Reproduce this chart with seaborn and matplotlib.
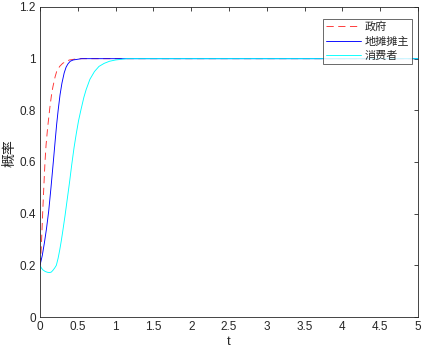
import numpy as np
import pandas as pd
import seaborn as sns
import matplotlib
matplotlib.use("Agg")
import matplotlib.pyplot as plt
from matplotlib.ticker import FuncFormatter

# --- data ---
series_names = ["政府", "地摊摊主", "消费者"]

t_gov = [0, 0.01, 0.02, 0.035, 0.05, 0.066, 0.08, 0.10, 0.13, 0.15, 0.17, 0.20, 0.22, 0.26, 0.30, 0.35, 0.39, 0.50, 5.0]
p_gov = [0.2, 0.233, 0.29, 0.40, 0.50, 0.60, 0.665, 0.73, 0.81, 0.855, 0.89, 0.93, 0.95, 0.97, 0.982, 0.99, 0.995, 1.0, 1.0]

t_land = [0, 0.03, 0.057, 0.085, 0.115, 0.145, 0.176, 0.20, 0.22, 0.24, 0.265, 0.29, 0.32, 0.345, 0.37, 0.40, 0.44, 0.55, 5.0]
p_land = [0.2, 0.238, 0.285, 0.34, 0.41, 0.50, 0.60, 0.68, 0.745, 0.80, 0.86, 0.905, 0.945, 0.967, 0.98, 0.99, 0.995, 1.0, 1.0]

t_cons = [0, 0.02, 0.04, 0.07, 0.10, 0.128, 0.15, 0.172, 0.195, 0.216, 0.24, 0.26, 0.28, 0.30, 0.33,
          0.36, 0.39, 0.42, 0.45, 0.48, 0.51, 0.54, 0.58, 0.61, 0.66, 0.72, 0.78, 0.85, 0.92, 1.0, 1.15, 5.0]
p_cons = [0.2, 0.189, 0.182, 0.176, 0.173, 0.172, 0.174, 0.181, 0.19, 0.20, 0.228, 0.258, 0.292, 0.33, 0.39,
          0.455, 0.52, 0.59, 0.655, 0.71, 0.76, 0.80, 0.85, 0.88, 0.92, 0.95, 0.97, 0.982, 0.99, 0.995, 1.0, 1.0]

x_ticks = [0, 0.5, 1, 1.5, 2, 2.5, 3, 3.5, 4, 4.5, 5]
y_ticks = [0, 0.2, 0.4, 0.6, 0.8, 1.0, 1.2]

sns.set_style("white")
plt.rcParams['font.family'] = ['Liberation Sans', 'Noto Sans CJK SC', 'DejaVu Sans']

fig = plt.figure(figsize=(4.25, 3.53), dpi=100)
ax = fig.add_axes([40/425, 36/353, 378/425, 310/353])

df_gov = pd.DataFrame({"t": t_gov, "p": p_gov})
df_land = pd.DataFrame({"t": t_land, "p": p_land})
df_cons = pd.DataFrame({"t": t_cons, "p": p_cons})

lw = 0.65
sns.lineplot(data=df_gov, x="t", y="p", ax=ax, color="#ff3030", linewidth=lw,
             linestyle=(0, (8, 5)), label=series_names[0], estimator=None, sort=False)
sns.lineplot(data=df_land, x="t", y="p", ax=ax, color="#0000ff", linewidth=lw,
             label=series_names[1], estimator=None, sort=False)
sns.lineplot(data=df_cons, x="t", y="p", ax=ax, color="#00ffff", linewidth=lw,
             label=series_names[2], estimator=None, sort=False)

ax.set_xlim(0, 5)
ax.set_ylim(0, 1.2)
ax.set_xticks(x_ticks)
ax.set_yticks(y_ticks)
fmt = FuncFormatter(lambda v, pos: ("%g" % round(v, 2)))
ax.xaxis.set_major_formatter(fmt)
ax.yaxis.set_major_formatter(fmt)

gray = "#262626"
for s in ax.spines.values():
    s.set_visible(True)
    s.set_color(gray)
    s.set_linewidth(0.6)
ax.tick_params(direction="in", length=3, width=0.6, colors=gray, labelsize=8.5,
               top=True, right=True, labeltop=False, labelright=False, pad=3)

ax.set_xlabel("t", fontsize=9.5, color=gray, labelpad=2)
ax.set_ylabel("概率", fontsize=10, color=gray,
              family=['Noto Sans CJK SC', 'DejaVu Sans'])
ax.yaxis.set_label_coords(-0.063, 0.53)

leg = ax.legend(loc="upper right", bbox_to_anchor=(0.99, 0.97), frameon=True, fancybox=False,
                prop={'family': ['Noto Sans CJK SC', 'DejaVu Sans'], 'size': 8},
                handlelength=3.2, handletextpad=0.3, borderpad=0.25, labelspacing=0.42,
                borderaxespad=0.2)
leg.get_frame().set_edgecolor(gray)
leg.get_frame().set_linewidth(0.6)

fig.savefig("out.png", dpi=100)
